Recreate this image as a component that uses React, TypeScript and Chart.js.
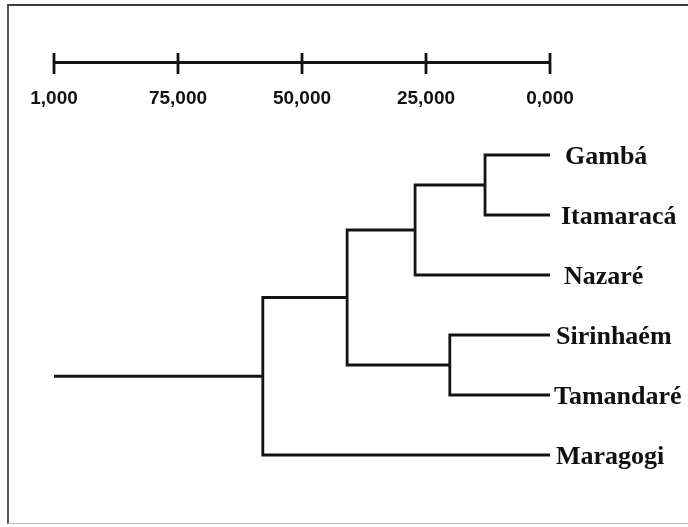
import React, { useEffect, useRef } from 'react';
import { Chart, registerables } from 'chart.js';

Chart.register(...registerables);

// ---- data ----
const leafLabels = ['Gambá', 'Itamaracá', 'Nazaré', 'Sirinhaém', 'Tamandaré', 'Maragogi'];
const mergeHeights = [13.1, 27.2, 20.2, 40.9, 57.9];
const mergeChildren = [
  ['L0', 'L1'],
  ['N0', 'L2'],
  ['L3', 'L4'],
  ['N1', 'N2'],
  ['N3', 'L5'],
];
const rootHeight = 100;
const scaleTicks = [100, 75, 50, 25, 0];
const scaleTickLabels = ['1,000', '75,000', '50,000', '25,000', '0,000'];

// ---- layout / style constants ----
const BAR_Y = -1.54;
const TICK_TOP = -1.7;
const TICK_BOTTOM = -1.35;
const TICK_LABEL_BASELINE = -0.85;
const LABEL_GAPS = [15, 11, 14, 6, 4, 6]; // px gap between leaf end and its label
const LINE_COLOR = '#141414';

function buildDatasets() {
  const nodeY: number[] = [];
  const info = (id: string) => {
    const idx = parseInt(id.slice(1), 10);
    if (id[0] === 'L') return { h: 0, y: idx };
    return { h: mergeHeights[idx], y: nodeY[idx] };
  };
  const ds: any[] = [];
  const base = {
    showLine: true,
    pointRadius: 0,
    pointHoverRadius: 0,
    borderColor: LINE_COLOR,
    borderWidth: 2.8,
    borderCapStyle: 'butt',
    borderJoinStyle: 'miter',
    fill: false,
    tension: 0,
    clip: false,
  };
  mergeChildren.forEach((pair, i) => {
    const a = info(pair[0]);
    const b = info(pair[1]);
    const h = mergeHeights[i];
    nodeY[i] = (a.y + b.y) / 2;
    ds.push({
      ...base,
      data: [
        { x: a.h, y: a.y },
        { x: h, y: a.y },
        { x: h, y: b.y },
        { x: b.h, y: b.y },
      ],
    });
  });
  const last = mergeHeights.length - 1;
  ds.push({
    ...base,
    data: [
      { x: rootHeight, y: nodeY[last] },
      { x: mergeHeights[last], y: nodeY[last] },
    ],
  });
  // scale bar
  ds.push({
    ...base,
    borderWidth: 3,
    data: [
      { x: scaleTicks[0], y: BAR_Y },
      { x: scaleTicks[scaleTicks.length - 1], y: BAR_Y },
    ],
  });
  scaleTicks.forEach((t) => {
    ds.push({
      ...base,
      borderWidth: 2.8,
      data: [
        { x: t, y: TICK_TOP },
        { x: t, y: TICK_BOTTOM },
      ],
    });
  });
  return ds;
}

const labelPlugin = {
  id: 'dendroLabels',
  afterDatasetsDraw(chart: any) {
    const ctx = chart.ctx;
    const xs = chart.scales.x;
    const ys = chart.scales.y;
    ctx.save();
    ctx.fillStyle = '#111';
    ctx.font = 'bold 19px "Liberation Sans", Arial, sans-serif';
    ctx.textAlign = 'center';
    ctx.textBaseline = 'alphabetic';
    scaleTicks.forEach((t, i) => {
      ctx.fillText(scaleTickLabels[i], xs.getPixelForValue(t), ys.getPixelForValue(TICK_LABEL_BASELINE));
    });
    ctx.font = 'bold 26px "Liberation Serif", "Times New Roman", serif';
    ctx.textAlign = 'left';
    leafLabels.forEach((name, i) => {
      ctx.fillText(name, xs.getPixelForValue(0) + LABEL_GAPS[i], ys.getPixelForValue(i) + 9);
    });
    ctx.restore();
  },
};

export default function App() {
  const ref = useRef<HTMLCanvasElement>(null);
  useEffect(() => {
    if (!ref.current) return;
    const chart = new Chart(ref.current, {
      type: 'scatter',
      data: { datasets: buildDatasets() },
      options: {
        animation: false,
        responsive: false,
        events: [],
        layout: { padding: { left: 54, right: 138, top: 155, bottom: 72 } },
        scales: {
          x: { type: 'linear', min: 0, max: 100, reverse: true, display: false },
          y: { type: 'linear', min: 0, max: 5, reverse: true, display: false },
        },
        plugins: { legend: { display: false }, tooltip: { enabled: false } },
      },
      plugins: [labelPlugin],
    } as any);
    return () => chart.destroy();
  }, []);
  return (
    <div
      style={{
        position: 'fixed',
        left: 0,
        top: 0,
        width: 688,
        height: 527,
        overflow: 'hidden',
        background: '#fff',
      }}
    >
      <div
        style={{
          position: 'absolute',
          left: 7,
          top: 4,
          width: 720,
          height: 520,
          borderTop: '2px solid #3a3a3a',
          borderLeft: '2px solid #555',
          borderBottom: '1px solid #bbb',
          boxSizing: 'border-box',
        }}
      />
      <canvas ref={ref} width={688} height={527} style={{ position: 'absolute', left: 0, top: 0 }} />
    </div>
  );
}
